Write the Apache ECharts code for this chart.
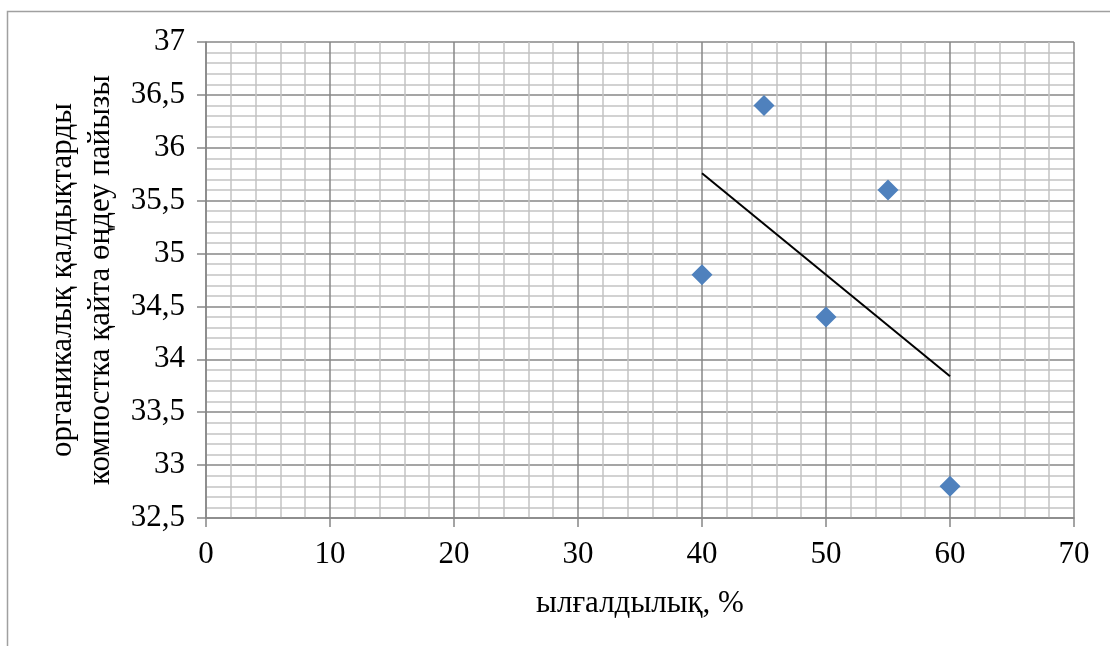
<!DOCTYPE html>
<html>
<head>
<meta charset="utf-8">
<script src="https://cdn.jsdelivr.net/npm/echarts@6/dist/echarts.min.js"></script>
<style>
html, body { margin: 0; padding: 0; background: #fff; }
#chart { width: 1110px; height: 646px; }
</style>
</head>
<body>
<div id="chart"></div>
<script>
// точки (ылғалдылық, %)
var moisture = [40, 45, 50, 55, 60];
var compostShare = [34.8, 36.4, 34.4, 35.6, 32.8];
// сызықтық тренд ұштары
var trendX = [40, 60];
var trendY = [35.76, 33.84];

var xTitle = 'ылғалдылық, %';
var yTitle = 'органикалық қалдықтарды\nкомпостка қайта өңдеу пайызы';

var chart = echarts.init(document.getElementById('chart'));
var font = "'Liberation Serif', 'DejaVu Serif', serif";

var points = [];
for (var i = 0; i < moisture.length; i++) {
    points.push([moisture[i], compostShare[i]]);
}
var trend = [];
for (var j = 0; j < trendX.length; j++) {
    trend.push([trendX[j], trendY[j]]);
}

var option = {
    animation: false,
    graphic: [{
        type: 'rect',
        shape: { x: 7.5, y: 11.5, width: 1200, height: 700 },
        style: { fill: 'none', stroke: '#a0a0a0', lineWidth: 1.5 },
        silent: true
    }],
    grid: { left: 206, right: 36, top: 42, bottom: 128 },
    xAxis: {
        type: 'value',
        min: 0, max: 70, interval: 10,
        name: xTitle,
        nameLocation: 'middle',
        nameGap: 70,
        nameTextStyle: { fontFamily: font, fontSize: 31, color: '#000' },
        axisLine: { show: true, lineStyle: { color: '#878787', width: 1.5 } },
        axisTick: { show: true, length: 9, lineStyle: { color: '#878787', width: 1.5 } },
        axisLabel: { fontFamily: font, fontSize: 31, color: '#000', margin: 21 },
        splitLine: { show: true, lineStyle: { color: '#878787', width: 1.5 } },
        minorTick: { show: false, splitNumber: 5 },
        minorSplitLine: { show: true, lineStyle: { color: '#c3c3c3', width: 1.5 } }
    },
    yAxis: {
        type: 'value',
        min: 32.5, max: 37, interval: 0.5,
        name: yTitle,
        nameLocation: 'middle',
        nameGap: 84,
        nameTextStyle: { fontFamily: font, fontSize: 31, color: '#000', lineHeight: 38 },
        axisLine: { show: true, lineStyle: { color: '#878787', width: 1.5 } },
        axisTick: { show: true, length: 9, lineStyle: { color: '#878787', width: 1.5 } },
        axisLabel: {
            fontFamily: font, fontSize: 31, color: '#000', margin: 21,
            formatter: function (v) { return String(v).replace('.', ','); }
        },
        splitLine: { show: true, lineStyle: { color: '#878787', width: 1.5 } },
        minorTick: { show: false, splitNumber: 5 },
        minorSplitLine: { show: true, lineStyle: { color: '#c3c3c3', width: 1.5 } }
    },
    series: [{
        type: 'scatter',
        data: points,
        symbol: 'diamond',
        symbolSize: 21,
        itemStyle: { color: '#4f81bd', opacity: 1 },
        z: 3
    }, {
        type: 'line',
        data: trend,
        symbol: 'none',
        lineStyle: { color: '#000', width: 2 },
        z: 2
    }]
};
chart.setOption(option);
</script>
</body>
</html>
